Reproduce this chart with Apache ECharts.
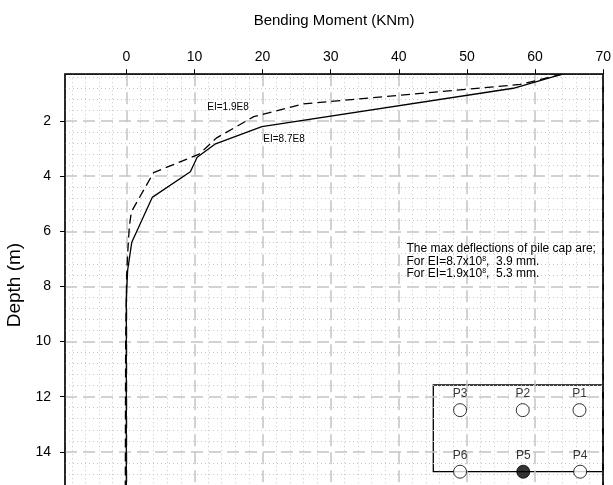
<!DOCTYPE html>
<html><head><meta charset="utf-8">
<script src="https://cdn.jsdelivr.net/npm/echarts@6/dist/echarts.min.js"></script>
<style>html,body{margin:0;padding:0;background:#fff}#c{width:613px;height:485px}</style>
</head><body><div id="c"></div>
<script>
// ---- data ----
const xTickValues = [0, 10, 20, 30, 40, 50, 60, 70];
const yTickValues = [2, 4, 6, 8, 10, 12, 14];
const xRange = [-9, 70];
const yRange = [0.3, 15.6];

// EI = 8.7E8 (solid)
const stiffMoment = [64.0, 56.8, 19.9, 13.0, 10.4, 9.4, 3.8, 0.8, 0.2, 0.0, 0.0];
const stiffDepth  = [0.30, 0.81, 2.20, 2.84, 3.31, 3.84, 4.77, 6.40, 7.40, 8.40, 15.6];
// EI = 1.9E8 (dashed)
const softMoment = [64.0, 57.8, 26.0, 18.7, 13.2, 10.7, 4.0, 0.75, 0.45, 0.2, 0.05, -0.1, -0.15];
const softDepth  = [0.30, 0.67, 1.38, 1.84, 2.62, 3.20, 3.87, 5.29, 5.80, 6.80, 7.60, 10.0, 15.6];

const pileNames  = ['P1', 'P2', 'P3', 'P4', 'P5', 'P6'];
const pileX      = [86.3, 52.8, 15.8, 86.7, 53.1, 15.8];
const pileY      = [0.71, 0.71, 0.71, 0, 0, 0];
const pileFilled = [false, false, false, false, true, false];

const seriesNames = ['EI=8.7E8', 'EI=1.9E8'];

// ---- helpers ----
function minorValues(min, max, step, major) {
  const out = [];
  const n0 = Math.ceil(min / step - 1e-9), n1 = Math.floor(max / step + 1e-9);
  for (let i = n0; i <= n1; i++) {
    const v = +(i * step).toFixed(6);
    if (Math.abs(v / major - Math.round(v / major)) > 1e-6) out.push(v);
  }
  return out;
}
const zip = (a, b) => a.map((v, i) => [v, b[i]]);
const FONT = '"Liberation Sans", Arial, sans-serif';
const majorLine = { show: true, lineStyle: { color: '#c4c4c4', width: 1.5, type: [12, 6] } };
const minorLine = { show: true, lineStyle: { color: '#c8c8c8', width: 1, type: [1, 3] } };

const chart = echarts.init(document.getElementById('c'), null, { renderer: 'canvas' });
chart.setOption({
  animation: false,
  backgroundColor: '#fff',
  grid: [
    { left: 65, top: 74.2, width: 538.2, height: 421.7, containLabel: false, outerBoundsMode: 'none',
      show: true, borderColor: '#000', borderWidth: 1.5, backgroundColor: 'transparent' },
    { left: 433.3, top: 385, width: 169.4, height: 86.7, containLabel: false, outerBoundsMode: 'none',
      show: true, borderColor: '#000', borderWidth: 1.3, backgroundColor: 'transparent' }
  ],
  xAxis: [
    { type: 'value', gridIndex: 0, position: 'top', min: xRange[0], max: xRange[1],
      name: 'Bending Moment (KNm)', nameLocation: 'middle', nameGap: 46,
      nameTextStyle: { fontSize: 15, color: '#000', fontFamily: FONT },
      axisLine: { show: true, onZero: false, lineStyle: { color: '#222', width: 1.5 } },
      axisTick: { show: true, inside: false, length: 5, customValues: xTickValues, lineStyle: { color: '#000', width: 1 } },
      axisLabel: { show: true, customValues: xTickValues, margin: 10, fontSize: 14, color: '#000', fontFamily: FONT },
      splitLine: majorLine },
    { type: 'value', gridIndex: 0, position: 'bottom', min: xRange[0], max: xRange[1],
      axisLine: { show: false }, axisLabel: { show: false },
      axisTick: { show: false, customValues: minorValues(xRange[0], xRange[1], 2, 10) },
      splitLine: minorLine },
    { type: 'value', gridIndex: 1, min: 0, max: 100, show: false }
  ],
  yAxis: [
    { type: 'value', gridIndex: 0, position: 'left', inverse: true, min: yRange[0], max: yRange[1],
      name: 'Depth (m)', nameLocation: 'middle', nameGap: 41,
      nameTextStyle: { fontSize: 19, color: '#000', fontFamily: FONT },
      axisLine: { show: true, onZero: false, lineStyle: { color: '#222', width: 1.5 } },
      axisTick: { show: true, inside: false, length: 5, customValues: yTickValues, lineStyle: { color: '#000', width: 1 } },
      axisLabel: { show: true, customValues: yTickValues, margin: 14, fontSize: 14, color: '#000', fontFamily: FONT },
      splitLine: majorLine },
    { type: 'value', gridIndex: 0, position: 'right', inverse: true, min: yRange[0], max: yRange[1],
      axisLine: { show: true, onZero: false, lineStyle: { color: '#000', width: 1.5 } },
      axisLabel: { show: false },
      axisTick: { show: false, customValues: minorValues(yRange[0], yRange[1], 0.4, 2) },
      splitLine: minorLine },
    { type: 'value', gridIndex: 1, min: 0, max: 1, show: false }
  ],
  series: [
    { name: seriesNames[0], type: 'line', xAxisIndex: 0, yAxisIndex: 0, data: zip(stiffMoment, stiffDepth),
      symbol: 'none', lineStyle: { color: '#000', width: 1.3, type: 'solid' }, z: 5 },
    { name: seriesNames[1], type: 'line', xAxisIndex: 0, yAxisIndex: 0, data: zip(softMoment, softDepth),
      symbol: 'none', lineStyle: { color: '#000', width: 1.3, type: [9, 5] }, z: 5 },
    { type: 'scatter', xAxisIndex: 2, yAxisIndex: 2, clip: false, symbol: 'circle', symbolSize: 13, z: 6,
      data: pileNames.map((n, i) => ({
        name: n, value: [pileX[i], pileY[i]],
        itemStyle: { color: pileFilled[i] ? '#000' : '#fff', borderColor: '#000', borderWidth: 1 }
      })),
      label: { show: true, position: 'top', distance: 3, formatter: '{b}', color: '#000', fontSize: 12, fontFamily: FONT }
    }
  ],
  graphic: [
    { type: 'text', x: 228, y: 107, z: 10,
      style: { text: seriesNames[1], fill: '#000', font: '10px ' + FONT, align: 'center', verticalAlign: 'middle', textAlign: 'center', textVerticalAlign: 'middle' } },
    { type: 'text', x: 284, y: 139, z: 10,
      style: { text: seriesNames[0], fill: '#000', font: '10px ' + FONT, align: 'center', verticalAlign: 'middle', textAlign: 'center', textVerticalAlign: 'middle' } },
    { type: 'text', x: 406.5, y: 243, z: 10,
      style: {
        text: '{t|The max deflections of pile cap are;}\n{t|For EI=8.7x10}{s|8}{t|,  3.9 mm.}\n{t|For EI=1.9x10}{s|8}{t|,  5.3 mm.}',
        fill: '#000', font: '12px ' + FONT, align: 'left', verticalAlign: 'top', textAlign: 'left', textVerticalAlign: 'top',
        rich: {
          t: { fontSize: 12, lineHeight: 12.3, fontFamily: FONT, fill: '#000', color: '#000' },
          s: { fontSize: 7, lineHeight: 8, verticalAlign: 'top', fontFamily: FONT, fill: '#000', color: '#000' }
        }
      } }
  ]
});
</script>
</body></html>
